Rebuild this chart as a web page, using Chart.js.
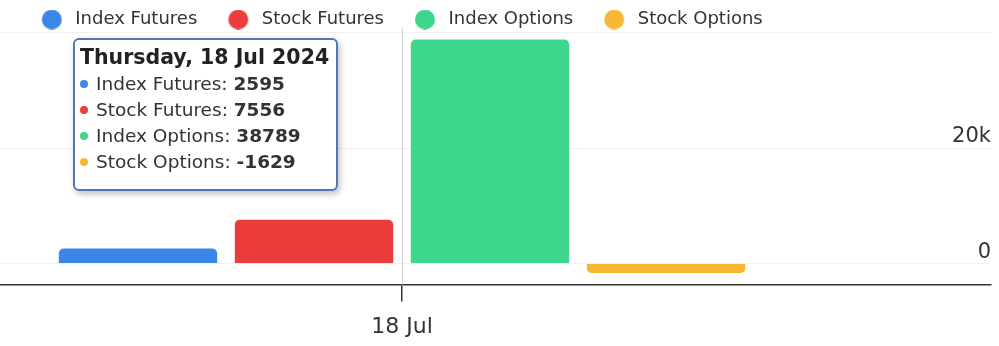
<!DOCTYPE html>
<html lang="en">
<head>
  <meta charset="UTF-8">
  <title>Participant wise OI change</title>
  <script src="https://cdn.jsdelivr.net/npm/chart.js@4.4.1/dist/chart.umd.min.js"></script>
  <style>
    body { margin: 0; background: #fff; font-family: "DejaVu Sans", sans-serif; }
    #wrap { position: relative; width: 999px; height: 346px; }
    #tip {
      position: absolute; top: 38px; width: 265px; height: 153px; box-sizing: border-box;
      background: #fff; border: 2px solid #4f78b4; border-radius: 6px;
      box-shadow: 2px 3px 6px rgba(0,0,0,0.25); color: #333;
      font-size: 18.5px; line-height: 26px; padding: 3px 0 0 5px; white-space: nowrap;
    }
    #tip .t { font-weight: bold; font-size: 20.5px; line-height: 28px; color: #222; }
    #tip .dot { display: inline-block; width: 8px; height: 8px; border-radius: 50%; margin: 0 8px 2px 0; }
    #tip b { color: #333; }
  </style>
</head>
<body>
  <div id="wrap">
    <canvas id="chart" width="999" height="346"></canvas>
    <div id="tip"></div>
  </div>

  <script>
    // one session only
    var dates = ["2024-07-18"];
    var dateLabels = ["18 Jul"];
    var indexFutures = [2595];
    var stockFutures = [7556];
    var indexOptions = [38789];
    var stockOptions = [-1629];

    var seriesNames = ["Index Futures", "Stock Futures", "Index Options", "Stock Options"];
    var seriesColors = ["#3b87e8", "#ec3d3d", "#3dd68c", "#f8b633"];
    var seriesValues = [indexFutures, stockFutures, indexOptions, stockOptions];

    var days = ["Sunday", "Monday", "Tuesday", "Wednesday", "Thursday", "Friday", "Saturday"];
    var months = ["Jan", "Feb", "Mar", "Apr", "May", "Jun", "Jul", "Aug", "Sep", "Oct", "Nov", "Dec"];

    function longDate(s) {
      var d = new Date(s + "T00:00:00");
      return days[d.getDay()] + ", " + d.getDate() + " " + months[d.getMonth()] + " " + d.getFullYear();
    }

    var FONT = "DejaVu Sans";
    var LEGEND_GAP = 38.5;

    // legend marker: circle sitting left of the box, so the text gets more air
    function marker(color) {
      let c = document.createElement("canvas");
      c.width = 40; c.height = 20;
      let g = c.getContext("2d");
      g.fillStyle = color;
      g.beginPath();
      g.arc(14, 10, 10, 0, Math.PI * 2);
      g.fill();
      return c;
    }

    var crosshair = {
      id: "crosshair",
      afterDatasetsDraw(chart) {
        let x = Math.round(chart.scales.x.getPixelForValue(0)) + 0.5;
        let ctx = chart.ctx;
        ctx.save();
        ctx.strokeStyle = "#d0d0d0";
        ctx.lineWidth = 1;
        ctx.beginPath();
        ctx.moveTo(x, chart.chartArea.top - 4);
        ctx.lineTo(x, chart.chartArea.bottom);
        ctx.stroke();
        ctx.restore();
      }
    };

    // legend sits centred over the category and higher than chart.js puts it
    var legendShift = {
      id: "legendShift",
      afterLayout(chart) {
        let lg = chart.legend;
        let lw = lg.lineWidths[0];
        let start = chart.scales.x.getPixelForValue(0) + 4 - (lw - LEGEND_GAP) / 2;
        lg.left = 0;
        lg.right = 2 * start - LEGEND_GAP + lw;
        lg.top = -28;
      }
    };

    function showTip(context) {
      let tip = document.getElementById("tip");
      let t = context.tooltip;
      if (!t.dataPoints || !t.dataPoints.length) { tip.style.display = "none"; return; }
      let i = t.dataPoints[0].dataIndex;
      let html = '<div class="t">' + longDate(dates[i]) + '</div>';
      t.dataPoints.forEach(function (p) {
        html += '<div><span class="dot" style="background:' + seriesColors[p.datasetIndex] + '"></span>' +
          seriesNames[p.datasetIndex] + ': <b>' + seriesValues[p.datasetIndex][i] + '</b></div>';
      });
      tip.innerHTML = html;
      tip.style.display = "block";
      tip.style.left = (context.chart.scales.x.getPixelForValue(i) - 329) + "px";
    }

    var chart = new Chart("chart", {
      type: "bar",
      data: {
        datasets: seriesNames.map(function (name, k) {
          return {
            label: name,
            data: dates.map(function (d, i) { return { x: i, y: seriesValues[k][i] }; }),
            backgroundColor: seriesColors[k],
            pointStyle: marker(seriesColors[k]),
            borderRadius: 5,
            borderSkipped: "start",
            categoryPercentage: 0.7104,
            barPercentage: 0.9
          };
        })
      },
      options: {
        responsive: false,
        animation: false,
        layout: { padding: { left: 0, right: 8, top: -34, bottom: -6 } },
        interaction: { mode: "index", intersect: false },
        plugins: {
          legend: {
            labels: {
              usePointStyle: true,
              boxWidth: 17,
              boxHeight: 17,
              padding: LEGEND_GAP,
              color: "#333",
              font: { family: FONT, size: 18 }
            }
          },
          tooltip: { enabled: false, external: showTip }
        },
        scales: {
          x: {
            type: "linear",
            offset: false,
            min: -402,
            max: 589,
            afterBuildTicks: function (axis) { axis.ticks = dates.map(function (d, i) { return { value: i }; }); },
            grid: { offset: false, drawOnChartArea: false, drawTicks: true, tickLength: 17, color: "#333", lineWidth: 1.5 },
            border: { color: "#333", width: 1.5 },
            ticks: {
              padding: 12,
              maxRotation: 0,
              color: "#333",
              font: { family: FONT, size: 22 },
              callback: function (v) { return dateLabels[v]; }
            }
          },
          y: {
            position: "right",
            min: -3652,
            max: 40000,
            afterBuildTicks: function (axis) { axis.ticks = [0, 20000, 40000].map(function (v) { return { value: v }; }); },
            grid: { color: "#f0f0f0", drawTicks: false },
            border: { display: false },
            ticks: {
              mirror: true,
              padding: 0,
              labelOffset: -11,
              color: "#333",
              font: { family: FONT, size: 21 },
              callback: function (v) { return v === 0 ? "0" : (v === 40000 ? "" : v / 1000 + "k"); }
            }
          }
        }
      },
      plugins: [crosshair, legendShift]
    });

    chart.tooltip.setActiveElements(
      seriesNames.map(function (n, k) { return { datasetIndex: k, index: 0 }; }),
      { x: 402, y: 150 }
    );
    chart.update();
  </script>
</body>
</html>
